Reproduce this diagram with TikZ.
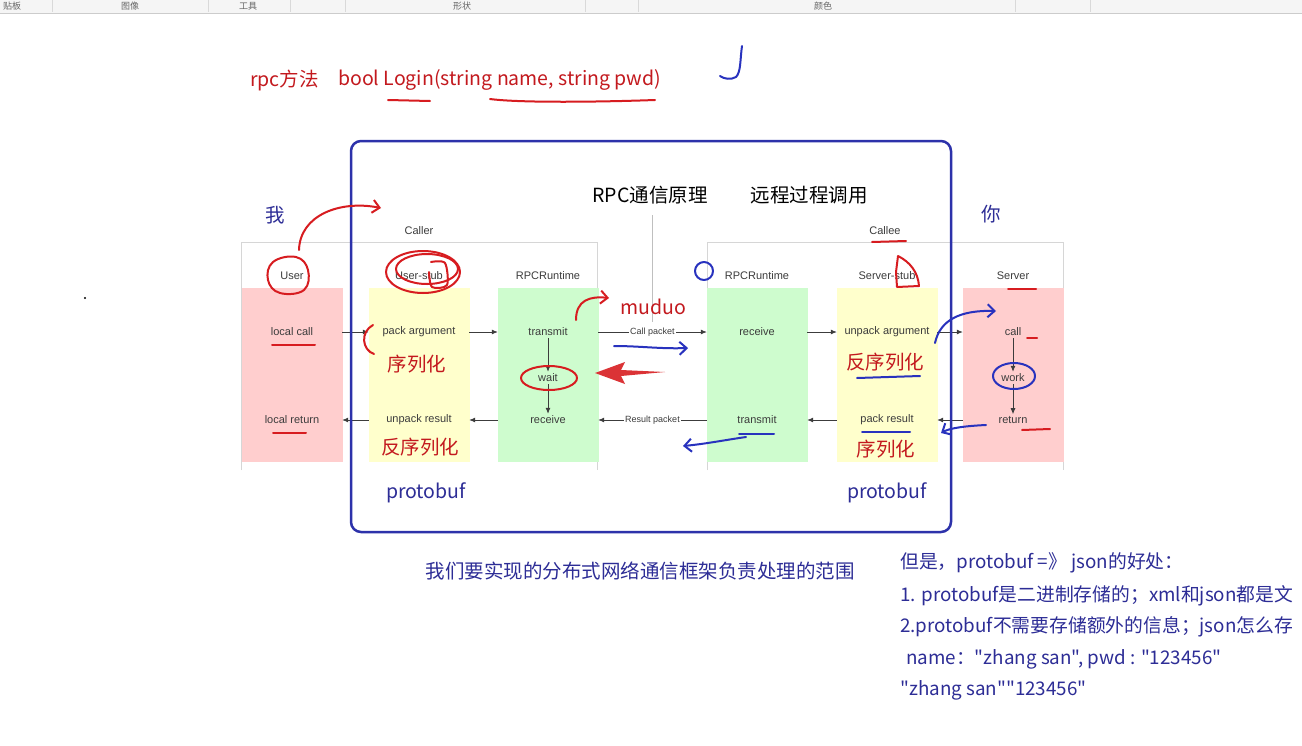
\documentclass[tikz,border=0pt]{standalone}
\usepackage{fontspec}
\setmainfont{Noto Sans CJK SC}[Ligatures=TeXOff]
\newfontfamily\diagfont{Liberation Sans}
\usetikzlibrary{arrows.meta, positioning, calc, shapes.geometric}

\definecolor{inkred}{RGB}{215,28,32}
\definecolor{inkblue}{RGB}{40,50,190}
\definecolor{txtred}{RGB}{195,25,30}
\definecolor{txtblue}{RGB}{45,45,150}
\definecolor{frameblue}{RGB}{45,50,170}
\definecolor{pinkcol}{RGB}{255,206,206}
\definecolor{yellowcol}{RGB}{255,255,204}
\definecolor{greencol}{RGB}{206,252,206}
\definecolor{boxgray}{RGB}{214,214,214}
\definecolor{labgray}{RGB}{60,60,60}

\begin{document}
\begin{tikzpicture}[
	x=1pt, y=-1pt,
	col/.style={draw=none, minimum width=101pt, minimum height=174pt, inner sep=0pt},
	colhead/.style={font=\diagfont\fontsize{11}{12}\selectfont, text=labgray, inner sep=1pt},
	rowlbl/.style={font=\diagfont\fontsize{11}{12}\selectfont, text=labgray, minimum width=100pt, inner sep=2pt},
	packet/.style={font=\diagfont\fontsize{9}{10}\selectfont, text=labgray, fill=white, inner sep=1pt},
	flow/.style={-{Latex[length=6pt,width=5pt]}, draw=labgray, line width=0.8pt},
	bigtxt/.style={font=\fontsize{19.5}{22}\selectfont, inner sep=0pt},
	notetxt/.style={font=\fontsize{18.8}{22}\selectfont, inner sep=0pt, text=txtblue, anchor=west},
	hand/.style={line width=2pt, line cap=round, line join=round},
	barb/.style={-{Straight Barb[length=7pt,width=13pt]}},
	tool/.style={font=\fontsize{9}{10}\selectfont, text=black!60, inner sep=0pt},
	>=latex
	]
	\path[use as bounding box] (0,0) rectangle (1302,745);
	\clip (0,0) rectangle (1302,745);
	\fill[white] (0,0) rectangle (1302,745);

	% toolbar strip
	\fill[black!4] (0,0) rectangle (1302,13);
	\draw[black!20] (0,13) -- (1302,13);
	\foreach \sx in {52,208,290,345,585,638,1015,1090}
		\draw[black!15] (\sx,0) -- (\sx,12);
	\node[tool] (tbclip) at (12,6) {贴板};
	\node[tool] (tbimg) at (130,6) {图像};
	\node[tool] (tbtool) at (248,6) {工具};
	\node[tool] (tbshape) at (462,6) {形状};
	\node[tool] (tbcolor) at (823,6) {颜色};

	% rpc method
	\node[bigtxt, text=txtred, anchor=west] (rpcm) at (250,80) {rpc方法};
	\node[bigtxt, text=txtred, anchor=west] (login) at (338,80) {bool Login(string name, string pwd)};

	% group boxes
	\draw[boxgray] (241,470) -- (241,242) -- (597,242) -- (597,470);
	\draw[boxgray] (707,470) -- (707,242) -- (1063,242) -- (1063,470);
	\draw[black!25] (652,215) -- (652,322);
	\node[colhead] (caller) at (419,231) {Caller};
	\node[colhead] (callee) at (885,231) {Callee};

	% columns
	\node[col, fill=pinkcol] (usercol) at (292,375) {};
	\node[col, fill=yellowcol] (ustubcol) at (419,375) {};
	\node[col, fill=greencol] (lrtcol) at (548,375) {};
	\node[col, fill=greencol] (rrtcol) at (757,375) {};
	\node[col, fill=yellowcol] (sstubcol) at (887,375) {};
	\node[col, fill=pinkcol] (servercol) at (1013,375) {};
	\node[colhead] (userh) at (292,276) {User};
	\node[colhead] (ustubh) at (419,276) {User-stub};
	\node[colhead] (lrth) at (548,276) {RPCRuntime};
	\node[colhead] (rrth) at (757,276) {RPCRuntime};
	\node[colhead] (sstubh) at (887,276) {Server-stub};
	\node[colhead] (serverh) at (1013,276) {Server};

	% call path
	\node[rowlbl] (lcall) at (292,332) {local call};
	\node[rowlbl] (packarg) at (419,332) {pack argument};
	\node[rowlbl] (ltransmit) at (548,332) {transmit};
	\node[rowlbl] (lwait) at (548,378) {wait};
	\node[rowlbl] (lreceive) at (548,420) {receive};
	\node[rowlbl] (rreceive) at (757,332) {receive};
	\node[rowlbl] (unpackarg) at (887,332) {unpack argument};
	\node[rowlbl] (scall) at (1013,332) {call};
	\node[rowlbl] (swork) at (1013,378) {work};
	\node[rowlbl] (sreturn) at (1013,420) {return};
	\node[rowlbl] (packres) at (887,420) {pack result};
	\node[rowlbl] (rtransmit) at (757,420) {transmit};
	\node[rowlbl] (unpackres) at (419,420) {unpack result};
	\node[rowlbl] (lreturn) at (292,420) {local return};

	\draw[flow] (lcall) -- (packarg);
	\draw[flow] (packarg) -- (ltransmit);
	\draw[flow] (ltransmit) -- node[packet] {Call packet} (rreceive);
	\draw[flow] (rreceive) -- (unpackarg);
	\draw[flow] (unpackarg) -- (scall);
	\draw[flow] (ltransmit) -- (lwait);
	\draw[flow] (lwait) -- (lreceive);
	\draw[flow] (scall) -- (swork);
	\draw[flow] (swork) -- (sreturn);
	\draw[flow] (sreturn) -- (packres);
	\draw[flow] (packres) -- (rtransmit);
	\draw[flow] (rtransmit) -- node[packet] {Result packet} (lreceive);
	\draw[flow] (lreceive) -- (unpackres);
	\draw[flow] (unpackres) -- (lreturn);

	% framework scope
	\draw[frameblue, line width=2.5pt, rounded corners=10pt] (351,141) rectangle (951,532);
	\node[bigtxt] (rpcprin) at (650,195) {RPC通信原理};
	\node[bigtxt] (remote) at (809,195) {远程过程调用};
	\node[bigtxt, text=txtblue] (me) at (275,215) {我};
	\node[bigtxt, text=txtblue] (you) at (991,214) {你};
	\node[bigtxt, text=txtred] (ser1) at (417,364) {序列化};
	\node[bigtxt, text=txtred] (deser1) at (420,447) {反序列化};
	\node[bigtxt, text=txtred] (deser2) at (885,362) {反序列化};
	\node[bigtxt, text=txtred] (ser2) at (886,449) {序列化};
	\node[bigtxt, text=txtred] (muduo) at (653,307) {muduo};
	\node[bigtxt, text=txtblue] (pb1) at (426,493) {protobuf};
	\node[bigtxt, text=txtblue] (pb2) at (887,493) {protobuf};
	\node[bigtxt, text=txtblue] (scope) at (640,571) {我们要实现的分布式网络通信框架负责处理的范围};

	% notes on protobuf
	\node[notetxt] (note1) at (900,563) {但是，protobuf =》 json的好处：};
	\node[notetxt] (note2) at (900,596) {1. protobuf是二进制存储的；xml和json都是文};
	\node[notetxt] (note3) at (900,627) {2.protobuf不需要存储额外的信息；json怎么存};
	\node[notetxt] (note4) at (906,659) {name："zhang san", pwd : "123456"};
	\node[notetxt] (note5) at (900,690) {"zhang san""123456"};

	% red ink
	\draw[inkred, hand] (388,100) -- (430,101);
	\draw[inkred, hand] (490,99) .. controls (520,103) and (600,102) .. (655,100);
	\draw[inkred, hand] plot[smooth cycle, tension=0.7] coordinates {(273,262) (296,257) (308,270) (304,290) (280,293) (268,280)};
	\draw[inkred, hand, barb] (299,250) .. controls (300,215) and (340,200) .. (381,208);
	\draw[inkred, hand] (423,272) ellipse[x radius=37pt, y radius=21pt];
	\draw[inkred, hand] (427,269) ellipse[x radius=31pt, y radius=15pt];
	\draw[inkred, hand] plot[smooth] coordinates {(431,262) (445,263) (447,285) (432,287) (429,272)};
	\draw[inkred, hand] (272,345) -- (315,345);
	\draw[inkred, hand] (273,433) -- (306,433);
	\draw[inkred, hand] (373,325) .. controls (360,332) and (362,350) .. (374,354);
	\draw[inkred, hand] (549,378) ellipse[x radius=28pt, y radius=12pt];
	\draw[inkred, hand, barb] (576,320) .. controls (576,300) and (590,296) .. (609,298);
	\fill[inkred!90!white] (595,373) -- (625,362) -- (621,370) -- (665,372) -- (621,376) -- (625,384) -- cycle;
	\draw[inkred, hand] (872,242) -- (906,241);
	\draw[inkred, hand] (898,256) -- (896,272) -- (897,287) -- (919,286) .. controls (918,272) and (910,262) .. (898,256);
	\draw[inkred, hand] (1008,289) -- (1036,289);
	\draw[inkred, hand] (1027,338) -- (1037,338);
	\draw[inkred, hand] (1022,430) -- (1050,429);

	% blue ink
	\draw[inkblue, hand] (742,46) .. controls (740,60) and (741,72) .. (736,77) .. controls (731,80) and (724,79) .. (720,76);
	\draw[inkblue, hand] (704,271) circle[radius=9pt];
	\draw[inkblue, hand, barb] (614,346) .. controls (640,346) and (660,349) .. (688,348);
	\draw[inkblue, hand, barb] (746,437) .. controls (725,440) and (705,444) .. (683,446);
	\draw[inkblue, hand] (739,434) -- (774,434);
	\draw[inkblue, hand] (857,378) -- (920,376);
	\draw[inkblue, hand] (862,432) -- (910,432);
	\draw[inkblue, hand, barb] (935,343) .. controls (940,320) and (960,310) .. (996,311);
	\draw[inkblue, hand] (1014,376) ellipse[x radius=21pt, y radius=13pt];
	\draw[inkblue, hand, barb] (986,425) .. controls (965,426) and (950,428) .. (941,433);
	\fill (85,298) circle[radius=1.2pt];
\end{tikzpicture}
\end{document}
